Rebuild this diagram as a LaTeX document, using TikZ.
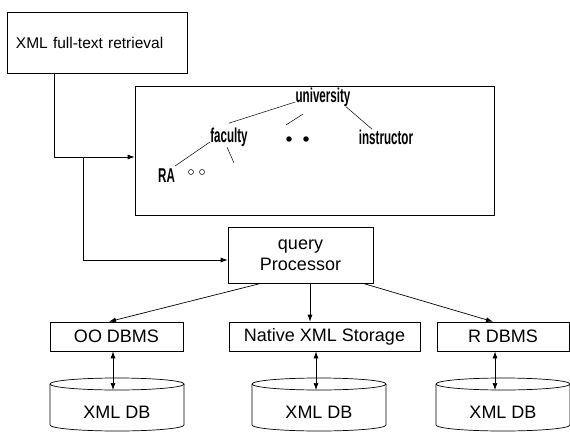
\documentclass[tikz,border=0pt]{standalone}
\usepackage{fontspec}
\setmainfont{Liberation Sans}
\newfontfamily\treefont[FakeStretch=0.58]{Liberation Sans}
\usetikzlibrary{arrows.meta}
\tikzset{%
  box/.style    = {shape=rectangle, draw, inner sep=0pt, align=center,%
                   font=\fontsize{18}{21}\selectfont},%
  term/.style   = {inner sep=0pt, font=\treefont\bfseries\fontsize{20}{22}\selectfont},%
  dbtext/.style = {inner sep=0pt, font=\fontsize{18}{21}\selectfont},%
  dot/.style    = {circle, fill, inner sep=0pt, minimum size=5.5pt},%
  hole/.style   = {circle, draw, line width=0.5pt, inner sep=0pt, minimum size=5pt},%
  link/.style   = {-{Latex[length=7pt,width=5pt]}},%
  both/.style   = {{Latex[length=7pt,width=5pt]}-{Latex[length=7pt,width=5pt]}}%
}
% one XML DB cylinder: name, x of its axis
\newcommand{\xmldb}[2]{%
  \draw (#2-67,48) -- (#2-67,7) arc[start angle=180, end angle=360, x radius=67, y radius=6] -- (#2+67,48);
  \draw (#2,48) ellipse [x radius=67, y radius=6];
  \node[dbtext] (#1) at (#2,20) {XML DB};
  \coordinate (#1top) at (#2,42);}

\begin{document}
\begin{tikzpicture}[x=1pt, y=1pt, line width=0.7pt]
	\useasboundingbox (0,0) rectangle (570,432);
	% retrieval and the schema tree
	\node[box, minimum width=180pt, minimum height=61pt, text width=162pt, align=left,
		font=\fontsize{15.5}{18}\selectfont] (ftr) at (97,389.5) {XML full-text retrieval};
	\node[box, minimum width=359pt, minimum height=129pt] (schema) at (314.5,281.5) {};
	\node[term, anchor=base] (univ) at (323,330) {university};
	\node[term, anchor=base] (fac) at (229,290) {faculty};
	\node[term, anchor=base] (instr) at (386,288) {instructor};
	\node[term, anchor=base] (ra) at (166.5,250) {RA};
	\node[dot] (d1) at (289,293) {};
	\node[dot] (d2) at (306,293) {};
	\node[hole] (o1) at (191,260) {};
	\node[hole] (o2) at (202,260) {};
	\coordinate (ustub) at (303,318);
	\coordinate (ustubend) at (286,307);
	\coordinate (fstub) at (227,285);
	\coordinate (fstubend) at (234,269);
	\draw[line width=0.5pt] (univ.base west) -- ([yshift=4pt]fac.north);
	\draw[line width=0.5pt] ([xshift=-5pt]univ.south east) -- ([xshift=-14pt]instr.north);
	\draw[line width=0.5pt] (fac.base west) -- ([yshift=2pt]ra.north east);
	\draw[line width=0.5pt] (ustub) -- (ustubend);
	\draw[line width=0.5pt] (fstub) -- (fstubend);
	% query processing
	\node[box, minimum width=145pt, minimum height=56pt] (query) at (300.5,177) {query\\Processor};
	\draw[link] ([xshift=-43pt]ftr.south) |- ([yshift=-6.5pt]schema.west);
	\coordinate (split) at (83,275);
	\draw[link] (split) |- ([yshift=-5pt]query.west);
	\node[box, minimum width=133pt, minimum height=29pt] (oo) at (116.5,95.5) {OO DBMS};
	\node[box, minimum width=191pt, minimum height=29pt] (nxs) at (324.5,95.5) {Native XML Storage};
	\node[box, minimum width=132pt, minimum height=29pt] (rdb) at (503,95.5) {R DBMS};
	\draw[link] ([xshift=-39.5pt]query.south) -- ([xshift=-7.5pt]oo.north);
	\draw[link] ([xshift=9.5pt]query.south) -- ([xshift=-14.5pt]nxs.north);
	\draw[link] ([xshift=62.5pt]query.south) -- ([xshift=-10pt]rdb.north);
	% storage
	\xmldb{db1}{117}
	\xmldb{db2}{319}
	\xmldb{db3}{503}
	\draw[both] ([xshift=-3.5pt]oo.south) -- ([xshift=-3.5pt]oo.south |- db1top);
	\draw[both] ([xshift=-8.5pt]nxs.south) -- ([xshift=-8.5pt]nxs.south |- db2top);
	\draw[both] ([xshift=-8pt]rdb.south) -- ([xshift=-8pt]rdb.south |- db3top);
\end{tikzpicture}
\end{document}
